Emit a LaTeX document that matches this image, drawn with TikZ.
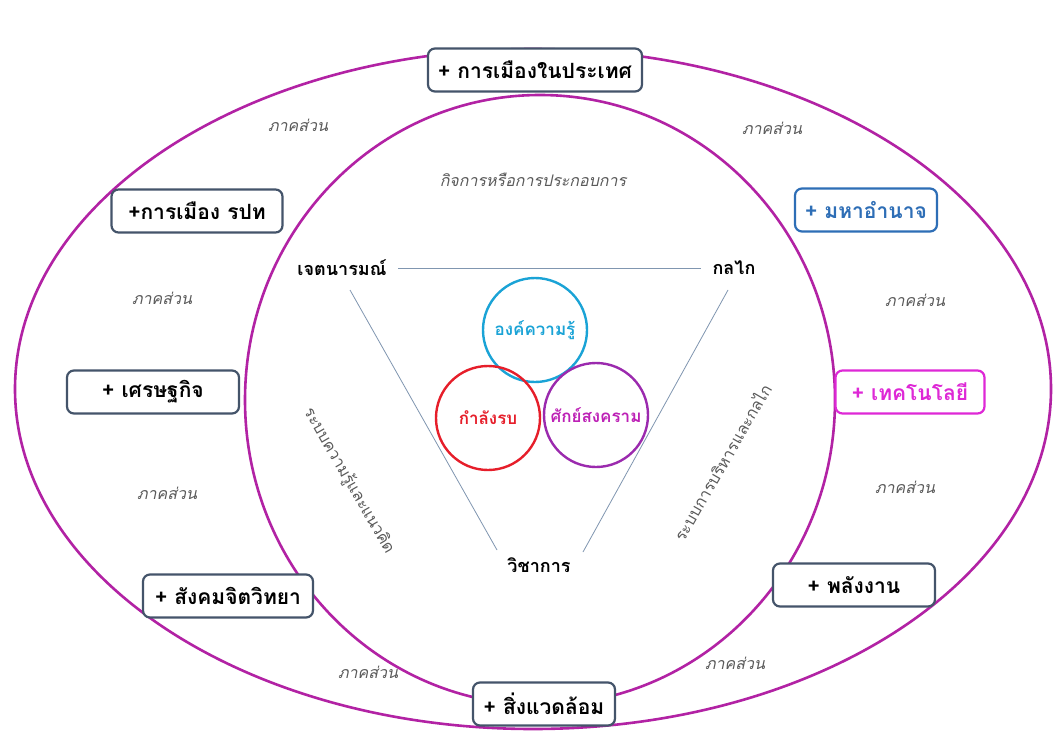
\documentclass[tikz,border=0pt]{standalone}
\usepackage{fontspec}
\newfontfamily\thai[Script=Thai]{Loma}
\definecolor{ringc}{RGB}{178,34,164}
\definecolor{boxc}{RGB}{68,84,106}
\definecolor{bluec}{RGB}{46,110,182}
\definecolor{magc}{RGB}{222,40,214}
\definecolor{cyanc}{RGB}{26,163,214}
\definecolor{redc}{RGB}{230,30,42}
\definecolor{purc}{RGB}{155,42,174}
\definecolor{linec}{RGB}{128,150,176}
\definecolor{grayt}{RGB}{90,90,90}
\tikzset{
  ring/.style={draw=ringc,line width=2.6pt},
  sector/.style={draw=boxc,line width=2.2pt,rounded corners=7pt,fill=white,
    font=\thai\bfseries\fontsize{21}{24}\selectfont,inner xsep=4pt,minimum height=43pt},
  part/.style={font=\thai\itshape\fontsize{16}{18}\selectfont,text=grayt},
  corner/.style={font=\thai\bfseries\fontsize{18}{21}\selectfont},
  ball/.style={circle,line width=2.4pt,minimum size=104pt,inner sep=0pt,
    font=\thai\bfseries\fontsize{17}{20}\selectfont},
  link/.style={draw=linec,line width=0.8pt},
  slant/.style={font=\thai\fontsize{16}{18}\selectfont,text=grayt}
}
\begin{document}
\begin{tikzpicture}[x=1pt,y=-1pt]
\useasboundingbox (0,0) rectangle (1057,733);
\fill[white] (0,0) rectangle (1057,733);
\draw[ring] (533,389) ellipse [x radius=518,y radius=340];
\draw[ring] (540,400) ellipse [x radius=295,y radius=305];
% sectors
\node[sector,minimum width=214pt] (pol) at (535,70) {+ การเมืองในประเทศ};
\node[sector,minimum width=171pt] (intl) at (197,211) {+การเมือง รปท};
\node[sector,minimum width=142pt,draw=bluec,text=bluec] (pow) at (866,210) {+ มหาอำนาจ};
\node[sector,minimum width=172pt] (eco) at (153,392) {+ เศรษฐกิจ};
\node[sector,minimum width=149pt,draw=magc,text=magc] (tech) at (910,392) {+ เทคโนโลยี};
\node[sector,minimum width=170pt] (soc) at (228,596) {+ สังคมจิตวิทยา};
\node[sector,minimum width=162pt] (ener) at (854,585) {+ พลังงาน};
\node[sector,minimum width=142pt] (env) at (544,704) {+ สิ่งแวดล้อม};
% part labels
\node[part] (p1) at (298,125) {ภาคส่วน};
\node[part] (p2) at (772,128) {ภาคส่วน};
\node[part] (p3) at (162,298) {ภาคส่วน};
\node[part] (p4) at (915,300) {ภาคส่วน};
\node[part] (p5) at (167,493) {ภาคส่วน};
\node[part] (p6) at (905,487) {ภาคส่วน};
\node[part] (p7) at (368,672) {ภาคส่วน};
\node[part] (p8) at (735,663) {ภาคส่วน};
\node[part] (biz) at (533,180) {กิจการหรือการประกอบการ};
% triangle
\node[corner] (will) at (342,268) {เจตนารมณ์};
\node[corner] (mech) at (734,268) {กลไก};
\node[corner] (acad) at (539,565) {วิชาการ};
\coordinate (l1) at (350,290); \coordinate (l2) at (497,550);
\coordinate (r1) at (728,290); \coordinate (r2) at (583,552);
\draw[link] ([xshift=8pt]will.east) -- ([xshift=-8pt]mech.west);
\draw[link] (l1) -- (l2);
\draw[link] (r1) -- (r2);
\node[slant,rotate=-60] (lt) at (349,481) {ระบบความรู้และแนวคิด};
\node[slant,rotate=60] (rt) at (722,462) {ระบบการบริหารและกลไก};
% circles
\node[ball,draw=cyanc,text=cyanc] (know) at (535,330) {องค์ความรู้};
\node[ball,draw=redc,text=redc] (force) at (488,418) {กำลังรบ};
\node[ball,draw=purc,text=magc!85!black] (war) at (596,415) {ศักย์สงคราม};
\end{tikzpicture}
\end{document}
